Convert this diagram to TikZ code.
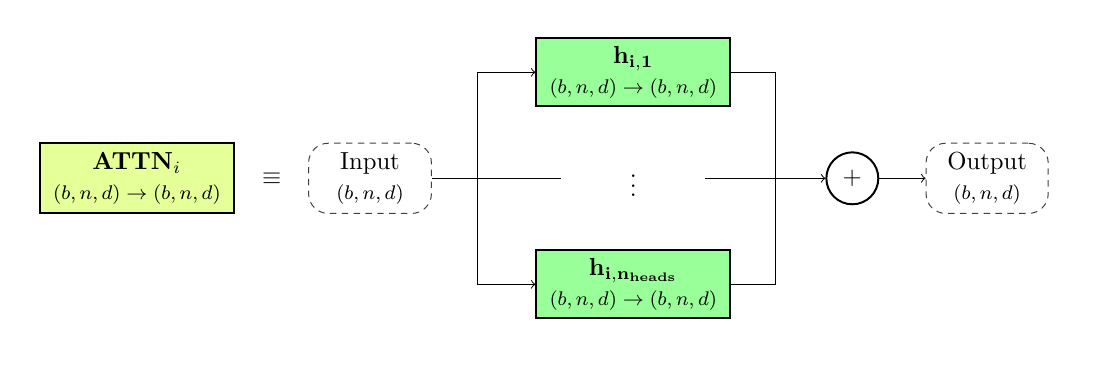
\documentclass[tikz,border=0pt]{standalone}
\usepackage{amsmath}
\usetikzlibrary{positioning}

\begin{document}
\begin{tikzpicture}[node distance=1cm]
\useasboundingbox (0,0) rectangle (15.91,5.26);
\node[draw, thick, fill=lime!40, minimum width=2.76cm, minimum height=1cm, align=center] (T) at (1.95,2.72) {$\mathbf{ATTN}_i$\\ {\footnotesize $(b,n,d)\to(b,n,d)$}};
\node (E) at (3.87,2.72) {$\equiv$};
\node[draw=black!75, dash pattern=on 2.6pt off 2.2pt, rounded corners=8pt, minimum width=1.75cm, minimum height=1cm, align=center] (I) at (5.27,2.72) {Input\\ {\footnotesize $(b,n,d)$}};
\node[draw, thick, fill=green!40, minimum width=2.76cm, minimum height=0.95cm, align=center] (H1) at (9.02,4.23) {$\mathbf{h_{i,1}}$\\ {\footnotesize $(b,n,d)\to(b,n,d)$}};
\node[draw, thick, fill=green!40, minimum width=2.76cm, minimum height=0.95cm, align=center] (Hn) at (9.02,1.21) {$\mathbf{h_{i,n_{heads}}}$\\ {\footnotesize $(b,n,d)\to(b,n,d)$}};
\node[minimum width=2.04cm] (D) at (9.02,2.72) {$\vdots$};
\node[draw, thick, circle, minimum size=0.74cm, inner sep=0pt] (S) at (12.14,2.72) {$+$};
\node[draw=black!75, dash pattern=on 2.6pt off 2.2pt, rounded corners=8pt, minimum width=1.74cm, minimum height=1cm, align=center] (O) at (14.06,2.72) {Output\\ {\footnotesize $(b,n,d)$}};

\coordinate[right=0.65cm of I.east] (split);
\coordinate[right=0.63cm of H1.east] (M1);
\coordinate[right=0.63cm of Hn.east] (Mn);

\draw (I) -- (D);
\draw[->] (split) |- (H1);
\draw[->] (split) |- (Hn);
\draw (H1) -- (M1) -- (Mn) -- (Hn);
\draw[->] (D) -- (S);
\draw[->] (S) -- (O);
\end{tikzpicture}
\end{document}
